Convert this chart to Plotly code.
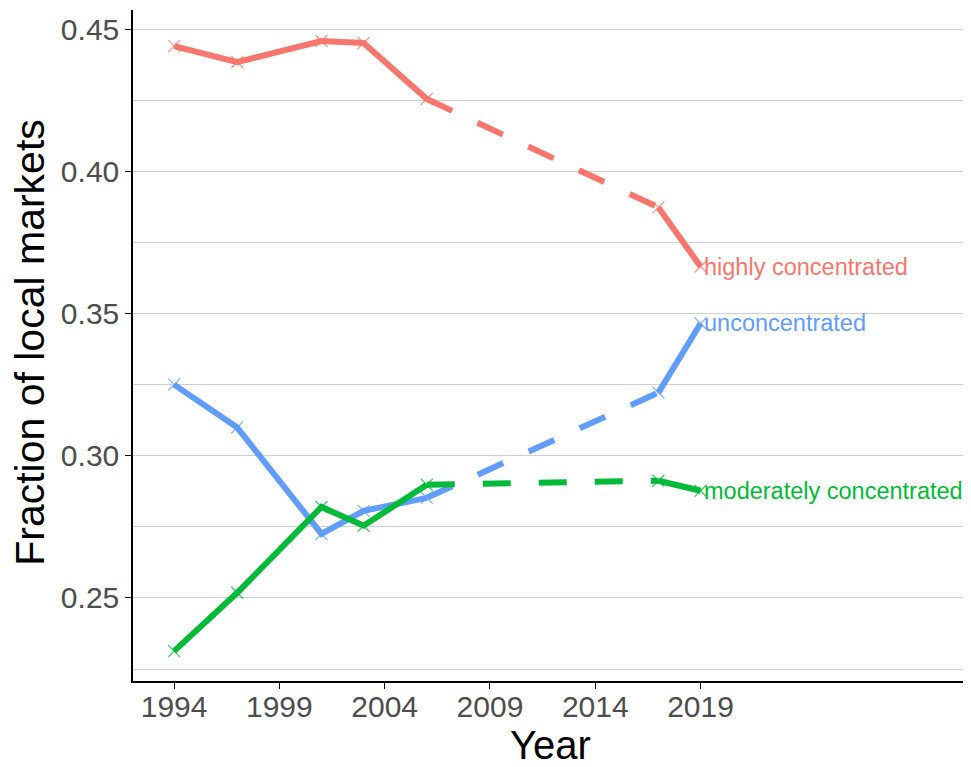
import plotly.graph_objects as go

years = [1994, 1997, 2001, 2003, 2006, 2017, 2019]
highly = [0.4440, 0.4384, 0.4458, 0.4451, 0.4254, 0.3873, 0.3665]
uncon = [0.3250, 0.3099, 0.2725, 0.2806, 0.2852, 0.3222, 0.3465]
moder = [0.2313, 0.2518, 0.2820, 0.2754, 0.2898, 0.2912, 0.2877]
names = ["highly concentrated", "unconcentrated", "moderately concentrated"]
colors = ["#F8766D", "#619CFF", "#00BA38"]
xticks = [1994, 1999, 2004, 2009, 2014, 2019]
yticks = [0.25, 0.30, 0.35, 0.40, 0.45]
ytick_text = ["0.25", "0.30", "0.35", "0.40", "0.45"]

FONT = "Liberation Sans, Arial"
fig = go.Figure()
for vals, name, col in zip([highly, uncon, moder], names, colors):
    fig.add_trace(go.Scatter(x=years[:5], y=vals[:5], mode="lines",
                             line=dict(color=col, width=6), showlegend=False))
    fig.add_trace(go.Scatter(x=years[4:6], y=vals[4:6], mode="lines",
                             line=dict(color=col, width=6, dash="28px,28px"), showlegend=False))
    fig.add_trace(go.Scatter(x=years[5:], y=vals[5:], mode="lines",
                             line=dict(color=col, width=6), showlegend=False))
    fig.add_trace(go.Scatter(x=years, y=vals, mode="markers",
                             marker=dict(symbol="x-thin", size=12, line=dict(color=col, width=1.3),
                                         color=col, opacity=0.75),
                             showlegend=False))
    fig.add_annotation(x=years[-1], y=vals[-1], text=name, showarrow=False,
                       xanchor="left", yanchor="middle", xshift=1,
                       font=dict(color=col, size=23.5, family=FONT))

# axis titles as annotations for precise placement
fig.add_annotation(xref="paper", yref="paper", x=0.5, y=0, text="Year", showarrow=False,
                   xanchor="center", yanchor="top", yshift=-40, xshift=0,
                   font=dict(size=40, color="black", family=FONT))
fig.add_annotation(xref="paper", yref="paper", x=0, y=0.504, text="Fraction of local markets",
                   showarrow=False, textangle=-90, xanchor="center", yanchor="middle",
                   xshift=-103, font=dict(size=41, color="black", family=FONT))

fig.update_layout(
    width=963, height=759,
    margin=dict(l=125, r=3, t=2, b=86),
    plot_bgcolor="white", paper_bgcolor="white",
    font=dict(family=FONT, color="#4d4d4d"),
    xaxis=dict(range=[1992.05, 2031.7], tickvals=xticks, showgrid=False,
               showline=True, linecolor="black", linewidth=1.5,
               ticks="outside", ticklen=6, tickcolor="black",
               tickfont=dict(size=30, color="#4d4d4d"), ticklabelstandoff=-8,
               zeroline=False, automargin=False),
    yaxis=dict(range=[0.2208, 0.4567], tickvals=yticks, ticktext=ytick_text,
               showgrid=True, gridcolor="#d0d0d0", gridwidth=1,
               minor=dict(dtick=0.025, tick0=0.225, showgrid=True, gridcolor="#d0d0d0", gridwidth=1),
               showline=True, linecolor="black", linewidth=1.5,
               ticks="outside", ticklen=6, tickcolor="black",
               tickfont=dict(size=30, color="#4d4d4d"),
               zeroline=False, automargin=False),
)

fig.write_html("out.html")
